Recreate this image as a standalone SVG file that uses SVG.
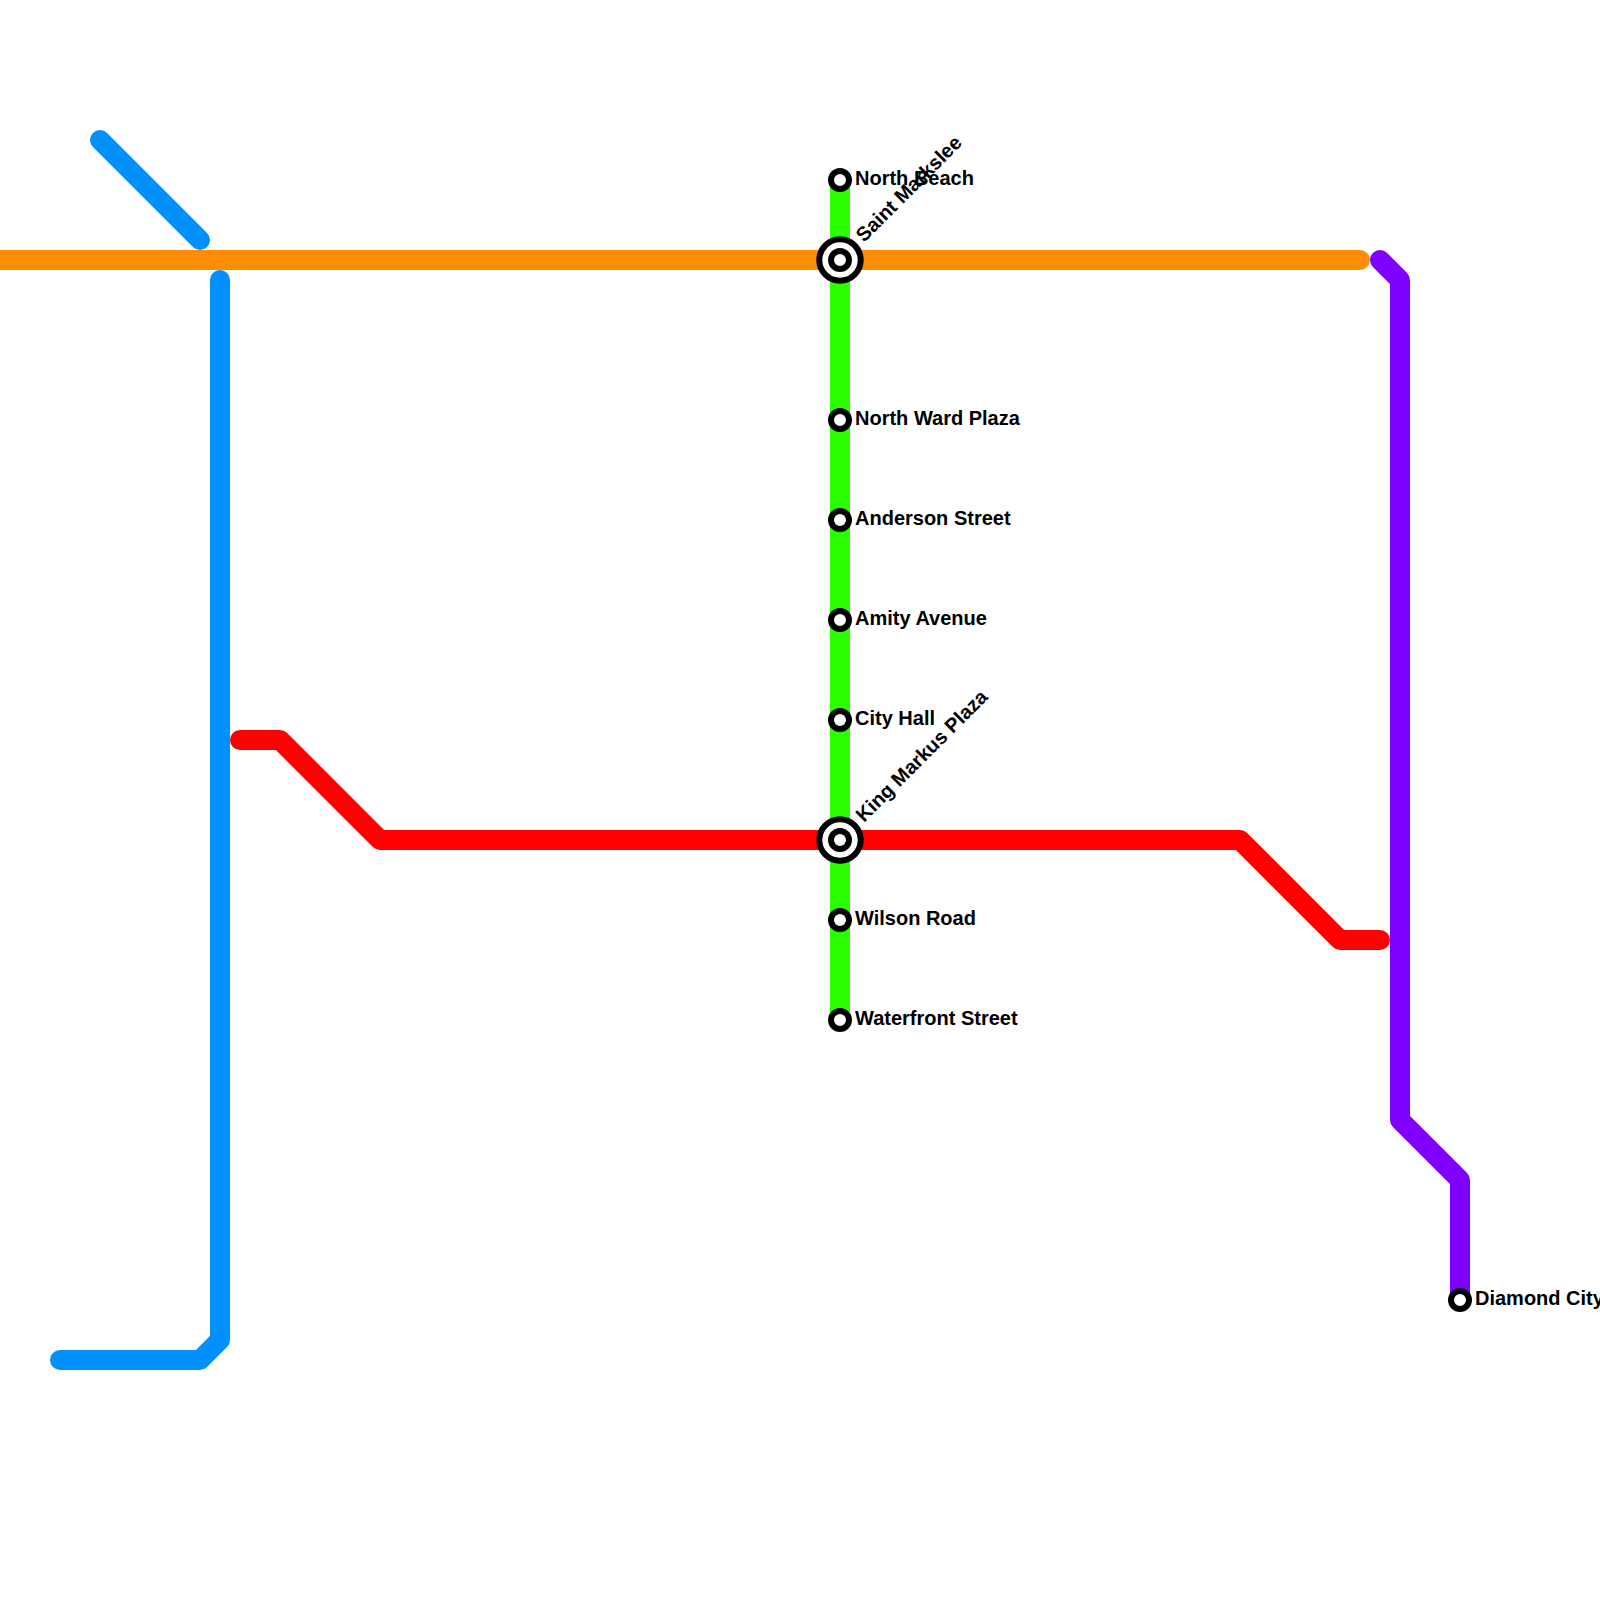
<svg xmlns="http://www.w3.org/2000/svg" width="1600" height="1600" viewBox="0 0 1600 1600">
<style>
.line{fill:none;stroke-width:20;stroke-linecap:round;stroke-linejoin:round}
.st{fill:#fff;stroke:#000;stroke-width:6}
.ring{fill:#fff;stroke:#000;stroke-width:6}
.lbl{font-family:"Liberation Sans",Arial,sans-serif;font-weight:bold;font-size:20px;fill:#000}
</style>
<rect width="1600" height="1600" fill="#fff"/>
<g id="connectors">
<path class="line" stroke="#2bff00" d="M840 180V1020"/>
<path class="line" stroke="#ff8c05" d="M-20 260H1360"/>
<path class="line" stroke="#ff0000" d="M240 740H280L380 840H1240L1340 940H1380"/>
<path class="line" stroke="#0091ff" d="M100 140L200 240"/>
<path class="line" stroke="#0091ff" d="M220 280V1340L200 1360H60"/>
<path class="line" stroke="#8000ff" d="M1380 260L1400 280V1120L1460 1180V1300"/>
</g>
<g id="north-beach"><circle class="st" cx="840" cy="180" r="9"/><text class="lbl" x="855" y="185">North Beach</text></g>
<g id="saint-markslee"><circle class="ring" cx="840" cy="260" r="20.7"/><circle class="st" cx="840" cy="260" r="9"/><text class="lbl" transform="translate(864 243) rotate(-45)">Saint Markslee</text></g>
<g id="north-ward-plaza"><circle class="st" cx="840" cy="420" r="9"/><text class="lbl" x="855" y="425">North Ward Plaza</text></g>
<g id="anderson-street"><circle class="st" cx="840" cy="520" r="9"/><text class="lbl" x="855" y="525">Anderson Street</text></g>
<g id="amity-avenue"><circle class="st" cx="840" cy="620" r="9"/><text class="lbl" x="855" y="625">Amity Avenue</text></g>
<g id="city-hall"><circle class="st" cx="840" cy="720" r="9"/><text class="lbl" x="855" y="725">City Hall</text></g>
<g id="king-markus-plaza"><circle class="ring" cx="840" cy="840" r="20.7"/><circle class="st" cx="840" cy="840" r="9"/><text class="lbl" transform="translate(864 823) rotate(-45)">King Markus Plaza</text></g>
<g id="wilson-road"><circle class="st" cx="840" cy="920" r="9"/><text class="lbl" x="855" y="925">Wilson Road</text></g>
<g id="waterfront-street"><circle class="st" cx="840" cy="1020" r="9"/><text class="lbl" x="855" y="1025">Waterfront Street</text></g>
<g id="diamond-city"><circle class="st" cx="1460" cy="1300" r="9"/><text class="lbl" x="1475" y="1305">Diamond City</text></g>
</svg>
